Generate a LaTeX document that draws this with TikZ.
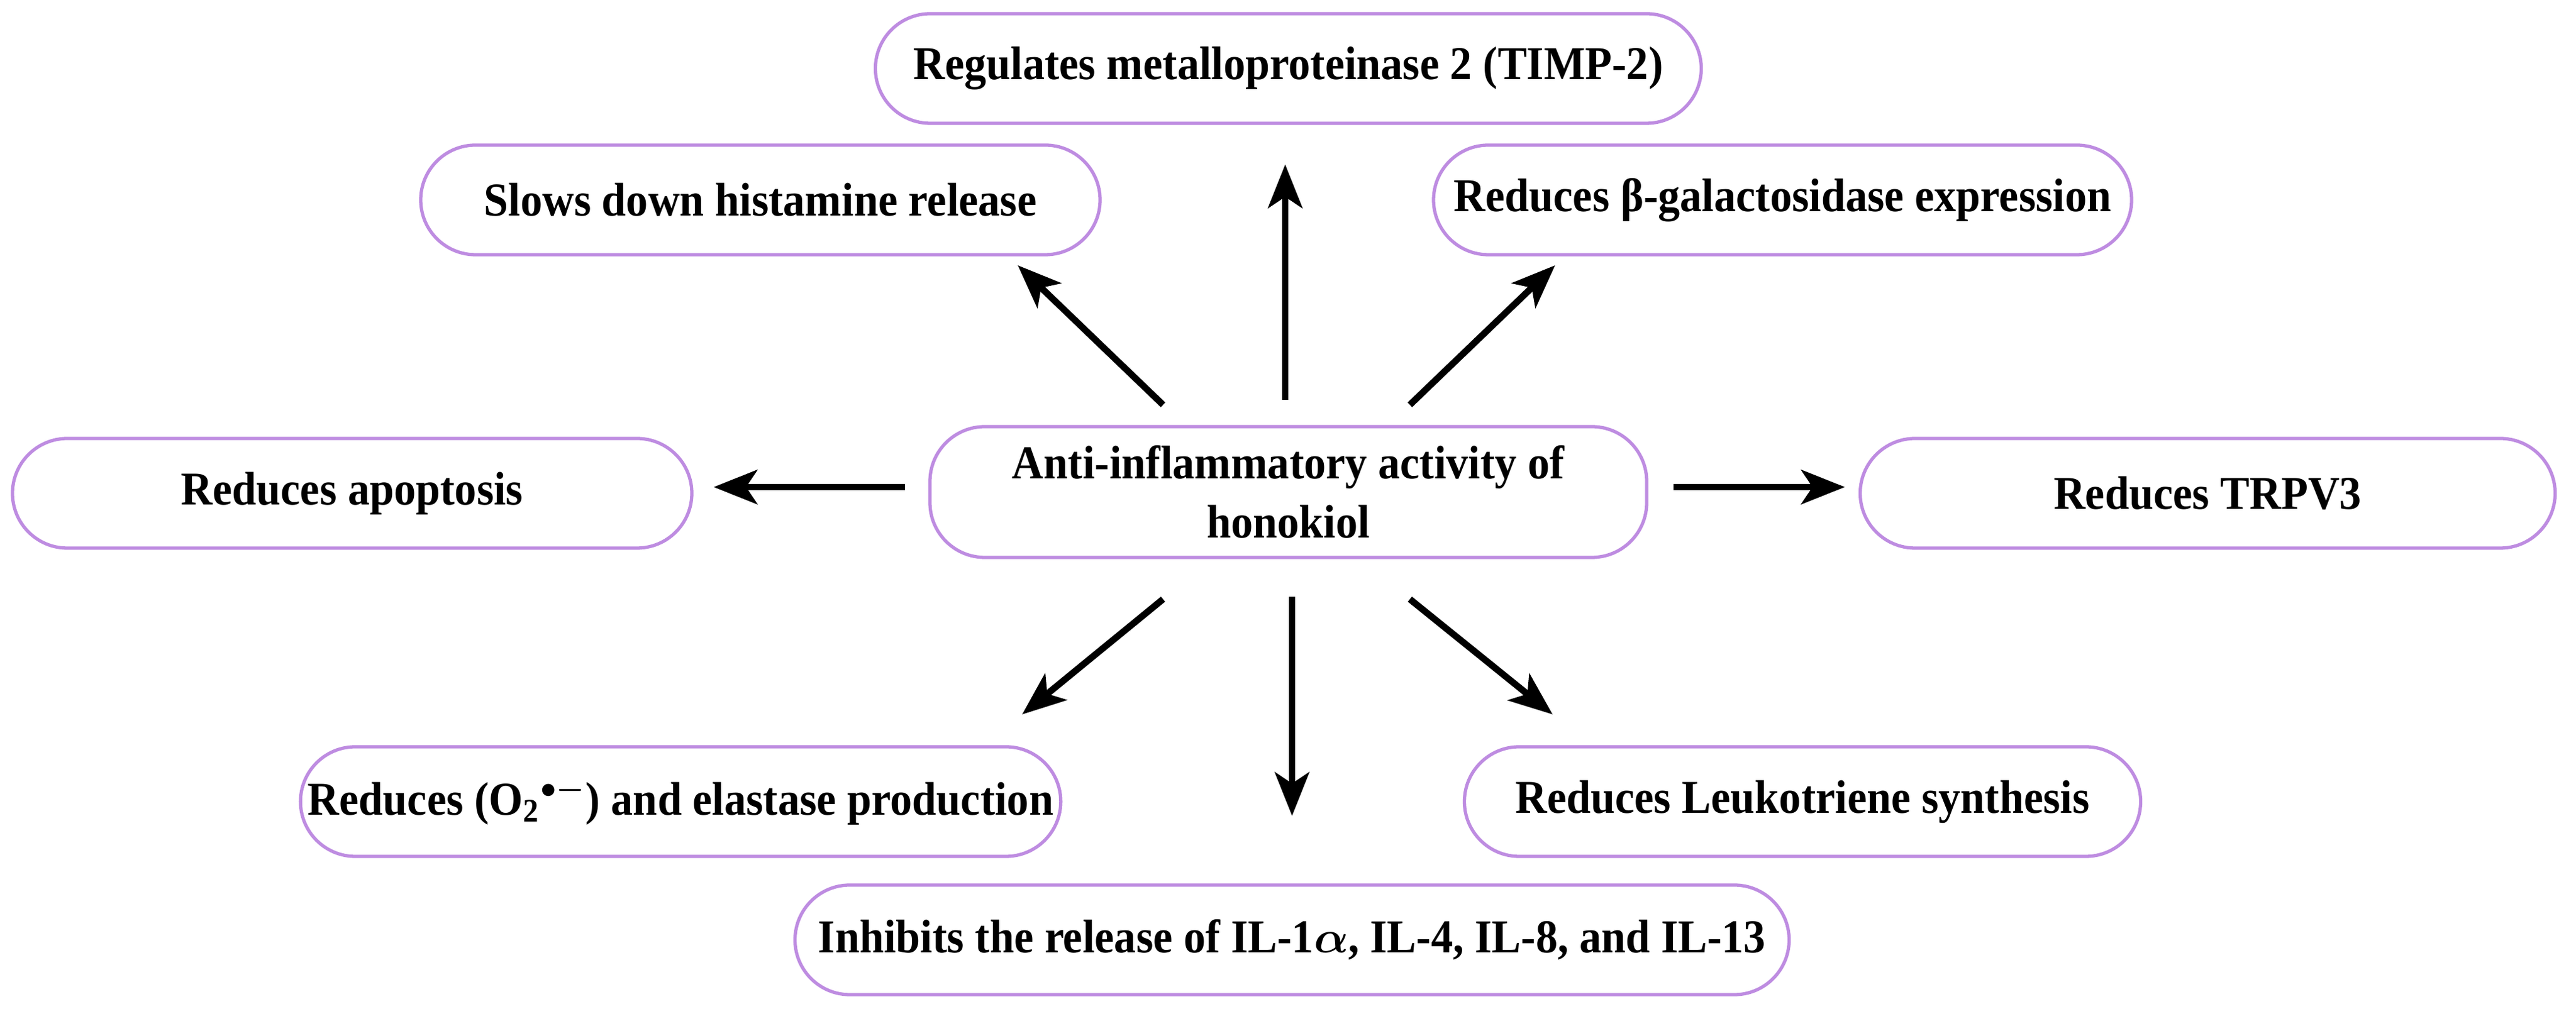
\documentclass[tikz,border=0pt]{standalone}
\usepackage{amsmath}
\usepackage{fontspec}
\setmainfont{Liberation Serif}[FakeStretch=0.93]
\usetikzlibrary{arrows.meta}
\definecolor{boxpurple}{RGB}{190,140,225}
\begin{document}
\begin{tikzpicture}[
  box/.style={draw=boxpurple, line width=1.5pt, rounded corners=0.88cm, fill=white,
    minimum height=1.76cm, align=center, font=\fontsize{21.5}{27}\selectfont\bfseries},
  arr/.style={line width=3pt, -{Stealth[length=0.7cm,width=0.55cm,inset=0.18cm]}}]
\useasboundingbox (0,0) rectangle (41.33,16.2);
\node[box, minimum width=13.25cm] (timp) at (20.67,15.10) {Regulates metalloproteinase 2 (TIMP-2)};
\node[box, minimum width=10.9cm] (hist) at (12.20,12.99) {Slows down histamine release};
\node[box, minimum width=11.2cm] (gal) at (28.60,12.99) {Reduces β-galactosidase expression};
\node[box, minimum width=10.9cm] (apo) at (5.65,8.28) {Reduces apoptosis};
\node[box, minimum width=11.5cm, minimum height=2.1cm] (cen) at (20.67,8.30) {Anti-inflammatory activity of\\honokiol};
\node[box, minimum width=11.15cm] (trp) at (35.42,8.28) {Reduces TRPV3};
\node[box, minimum width=10.6cm] (o2) at (10.92,3.33) {Reduces (O$_{\mathbf 2}$$^{\bullet\boldsymbol{-}}$) and elastase production};
\node[box, minimum width=10.85cm] (leu) at (28.92,3.33) {Reduces Leukotriene synthesis};
\node[box, minimum width=15.95cm] (il) at (20.73,1.11) {Inhibits the release of IL-1$\boldsymbol{\alpha}$, IL-4, IL-8, and IL-13};
\coordinate (s1) at (18.66,9.70); \coordinate (e1) at (16.33,11.94);
\coordinate (s2) at (20.62,9.78); \coordinate (e2) at (20.62,13.56);
\coordinate (s3) at (22.62,9.70); \coordinate (e3) at (24.95,11.94);
\coordinate (s4) at (14.52,8.38); \coordinate (e4) at (11.45,8.38);
\coordinate (s5) at (26.85,8.38); \coordinate (e5) at (29.60,8.38);
\coordinate (s6) at (18.66,6.58); \coordinate (e6) at (16.40,4.73);
\coordinate (s7) at (20.73,6.62); \coordinate (e7) at (20.73,3.10);
\coordinate (s8) at (22.62,6.58); \coordinate (e8) at (24.91,4.73);
\foreach \i in {1,...,8} \draw[arr] (s\i) -- (e\i);
\end{tikzpicture}
\end{document}
